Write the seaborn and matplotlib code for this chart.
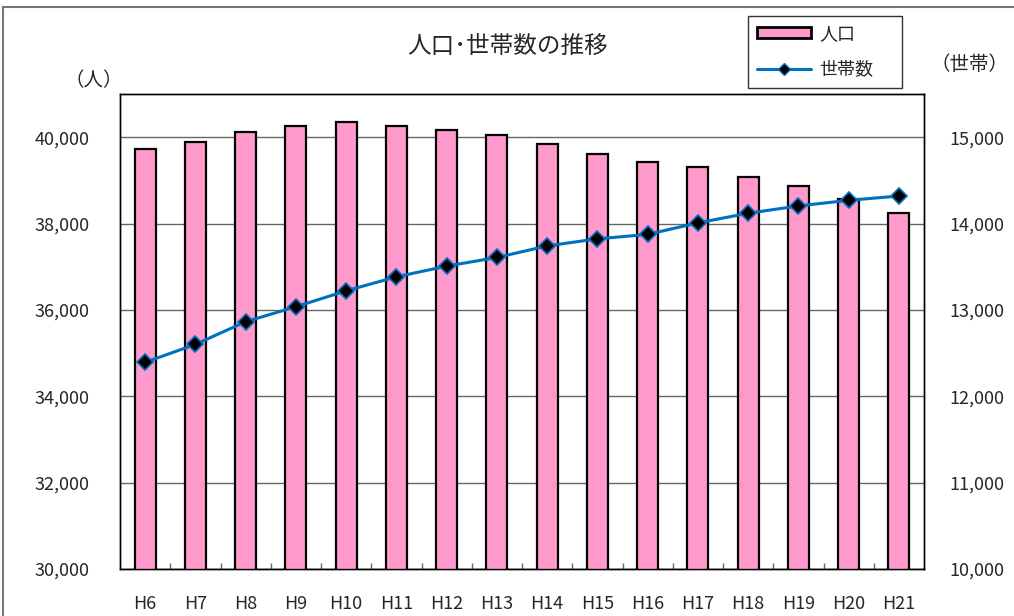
import matplotlib
matplotlib.use("Agg")
import matplotlib.pyplot as plt
from matplotlib.patches import Patch, Rectangle
from matplotlib.lines import Line2D
from matplotlib.ticker import FuncFormatter, FixedLocator
import seaborn as sns
import pandas as pd

years = ["H6", "H7", "H8", "H9", "H10", "H11", "H12", "H13",
         "H14", "H15", "H16", "H17", "H18", "H19", "H20", "H21"]
population = [39732, 39884, 40116, 40264, 40340, 40264, 40155, 40039,
              39838, 39616, 39415, 39300, 39084, 38876, 38560, 38252]
households = [12393, 12601, 12863, 13037, 13221, 13383, 13507, 13607,
              13741, 13823, 13874, 14008, 14119, 14204, 14269, 14319]

title = "人口･世帯数の推移"
left_unit = "（人）"
right_unit = "（世帯）"
label_pop = "人口"
label_hh = "世帯数"

sns.set_theme(style="white")
plt.rcParams['font.family'] = ['Noto Sans CJK JP', 'DejaVu Sans']

df = pd.DataFrame({"year": years, "pop": population, "hh": households})

fig = plt.figure(figsize=(10.14, 6.16), dpi=100)
W, H = 1014, 616
ax = fig.add_axes([120 / W, 1 - 569 / H, (924 - 120) / W, (569 - 94) / H])

pink = "#FF99CC"
blue = "#0070C0"

sns.barplot(data=df, x="year", y="pop", ax=ax, color=pink, width=0.42,
            edgecolor="black", linewidth=1.6, saturation=1, zorder=3)
ax.set_ylim(30000, 41000)
ax.set_xlim(-0.5, len(years) - 0.5)
ax.yaxis.set_major_locator(FixedLocator(range(30000, 40001, 2000)))
ax.yaxis.set_major_formatter(FuncFormatter(lambda v, p: f"{int(v):,}"))
ax.grid(axis="y", color="#666666", linewidth=1.0, zorder=0)
ax.set_axisbelow(True)
ax.set_xlabel("")
ax.set_ylabel("")
for s in ax.spines.values():
    s.set_color("black")
    s.set_linewidth(1.0)
ax.tick_params(axis="y", direction="in", length=0, pad=22, labelsize=13)
ax.tick_params(axis="x", direction="in", length=0, pad=19, labelsize=13)
ax.set_xticks(range(len(years)))
ax.set_xticklabels(years)
ax.xaxis.set_minor_locator(FixedLocator([i + 0.5 for i in range(len(years) - 1)]))
ax.tick_params(axis="x", which="minor", direction="in", length=4, color="#666666", bottom=True)

ax2 = ax.twinx()
sns.lineplot(data=df, x="year", y="hh", ax=ax2, color=blue, linewidth=2.2,
             marker="D", markersize=8, markerfacecolor="black",
             markeredgecolor=blue, markeredgewidth=1.2, sort=False, zorder=5)
ax2.set_ylim(10000, 15500)
ax2.yaxis.set_major_locator(FixedLocator(range(10000, 15001, 1000)))
ax2.yaxis.set_major_formatter(FuncFormatter(lambda v, p: f"{int(v):,}"))
ax2.set_ylabel("")
ax2.set_xlabel("")
ax2.tick_params(axis="y", direction="in", length=0, pad=18, labelsize=13)
ax2.grid(False)
for s in ax2.spines.values():
    s.set_color("black")
    s.set_linewidth(1.0)

fig.text(508 / W, 1 - 46 / H, title, ha="center", va="center", fontsize=17)
fig.text(94 / W, 1 - 81 / H, left_unit, ha="center", va="center", fontsize=14)
fig.text(969 / W, 1 - 64 / H, right_unit, ha="center", va="center", fontsize=14)

handles = [Patch(facecolor=pink, edgecolor="black", linewidth=2.0),
           Line2D([0], [0], color=blue, linewidth=2.2, marker="D", markersize=6,
                  markerfacecolor="black", markeredgecolor=blue)]
leg = fig.legend(handles, [label_pop, label_hh], loc="upper left",
                 bbox_to_anchor=(748 / W, 1 - 16 / H, 154 / W, 0),
                 mode="expand", borderaxespad=0,
                 fontsize=13, frameon=True, fancybox=False, handlelength=3.0,
                 handleheight=0.5, handletextpad=0.45, labelspacing=1.0,
                 borderpad=0.5)
leg.get_frame().set_edgecolor("black")
leg.get_frame().set_linewidth(1.0)

fig.patches.append(Rectangle((3 / W, -0.05), 1.1, 1 - 7 / H + 0.05,
                             transform=fig.transFigure, fill=False,
                             edgecolor="#777777", linewidth=1.5))

fig.savefig("out.png", dpi=100)
